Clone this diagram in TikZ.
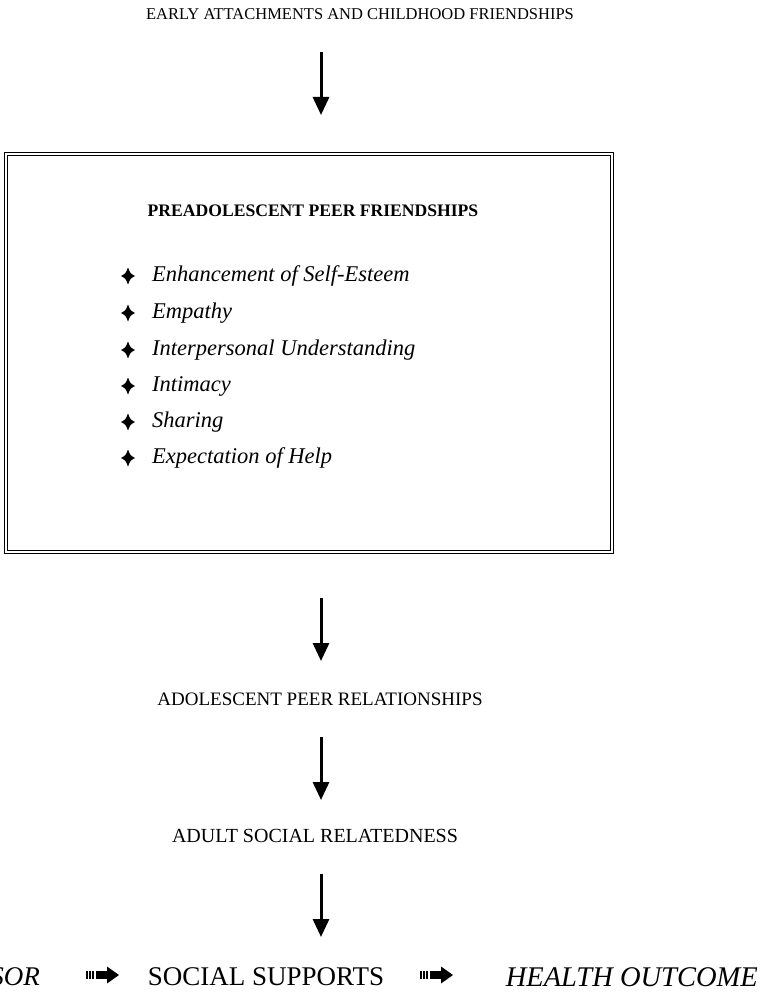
\documentclass[tikz,border=0pt]{standalone}
\usepackage{fontspec}
\setmainfont{Liberation Serif}
\usetikzlibrary{arrows.meta}
\begin{document}
\begin{tikzpicture}[x=1pt,y=-1pt,
  captext/.style={font=\fontsize{19}{21}\selectfont, inner sep=0pt},
  itemtxt/.style={font=\fontsize{22.5}{24}\selectfont\itshape, anchor=west, inner sep=0pt},
  bottomtxt/.style={font=\fontsize{27}{29}\selectfont\itshape, inner sep=0pt},
  downarrow/.style={line width=3pt, -{Triangle[width=16pt,length=18pt]}},
  framebox/.style={draw, line width=1.2pt, double, double distance=2pt, inner sep=0pt}
]
\useasboundingbox (0,0) rectangle (764,1006);
\node[captext, font=\fontsize{16.5}{18}\selectfont] (t1) at (360,14) {EARLY ATTACHMENTS AND CHILDHOOD FRIENDSHIPS};
\coordinate (a1s) at (321,52);
\coordinate (a1e) at (321,115);
\draw[downarrow] (a1s) -- (a1e);

\node[framebox, minimum width=606pt, minimum height=398pt] (box) at (309,353) {};
\node[captext, font=\fontsize{17.6}{19}\selectfont\bfseries] (bt) at (313,211) {PREADOLESCENT PEER FRIENDSHIPS};
\foreach \y/\t [count=\i] in {276/Enhancement of Self-Esteem, 313/Empathy, 350/Interpersonal Understanding, 386/Intimacy, 422/Sharing, 458/Expectation of Help}{
  \fill (128,\y-8.5) .. controls (130.3,\y-2.6) .. (135,\y) .. controls (130.3,\y+2.6) .. (128,\y+8.5)
     .. controls (125.7,\y+2.6) .. (121,\y) .. controls (125.7,\y-2.6) .. cycle;
  \node[itemtxt] (i\i) at (152,\y) {\t};
}

\coordinate (a2s) at (321,598);
\coordinate (a2e) at (321,661);
\draw[downarrow] (a2s) -- (a2e);
\node[captext] (t2) at (320,699) {ADOLESCENT PEER RELATIONSHIPS};
\coordinate (a3s) at (321,737);
\coordinate (a3e) at (321,800);
\draw[downarrow] (a3s) -- (a3e);
\node[captext, font=\fontsize{20}{22}\selectfont] (t3) at (315,836) {ADULT SOCIAL RELATEDNESS};
\coordinate (a4s) at (321,874);
\coordinate (a4e) at (321,937);
\draw[downarrow] (a4s) -- (a4e);

\node[bottomtxt, anchor=east] (s1) at (40,977) {SOR};
\node[bottomtxt, font=\fontsize{27}{29}\selectfont] (s2) at (266,977) {SOCIAL SUPPORTS};
\node[bottomtxt, font=\fontsize{28.5}{30}\selectfont\itshape, anchor=east] (s3) at (758,977) {HEALTH OUTCOME};

\foreach \x in {86, 420}{
  \begin{scope}[shift={(\x,975)}]
    \fill (0,-4) rectangle (1.6,4);
    \fill (3.2,-4) rectangle (4.8,4);
    \fill (6.4,-4) rectangle (8,4);
    \fill (9.5,-4) rectangle (22,4);
    \fill (21,-8.5) -- (33,0) -- (21,8.5) -- cycle;
  \end{scope}
}
\end{tikzpicture}
\end{document}
